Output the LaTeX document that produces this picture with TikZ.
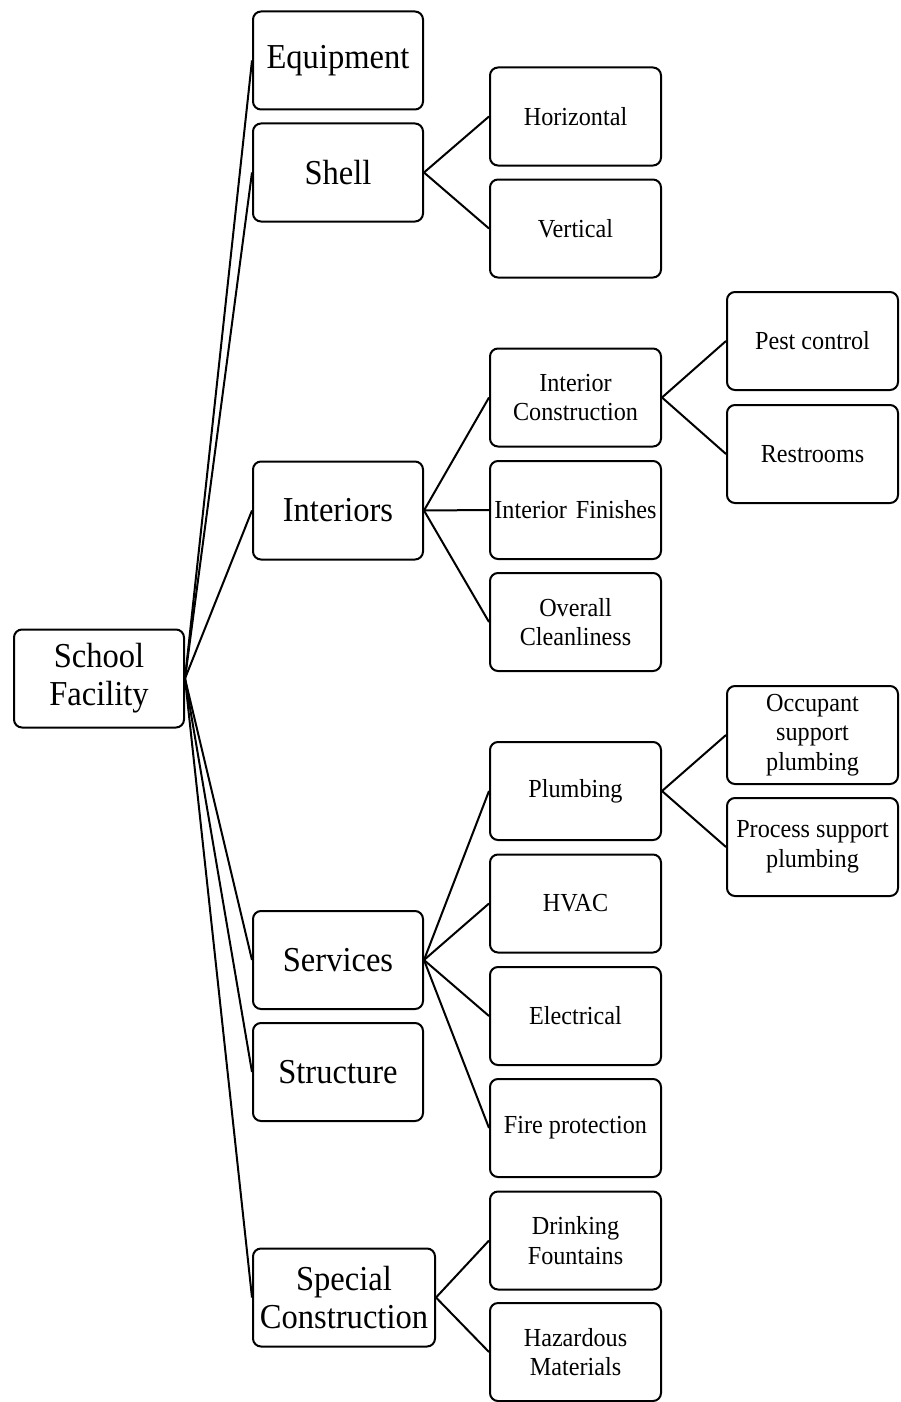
\documentclass[tikz,border=0pt]{standalone}
\usepackage{fontspec}
\setmainfont{Liberation Serif}[FakeStretch=0.93]
\begin{document}
\begin{tikzpicture}[x=1pt,y=-1pt,
  box/.style={draw=black,line width=2pt,rounded corners=8pt,rectangle,inner sep=0pt,align=center,minimum height=98pt},
  big/.style={box,minimum width=170pt,font=\fontsize{35}{38}\selectfont},
  small/.style={box,minimum width=171pt,font=\fontsize{26}{29.5}\selectfont},
  link/.style={line width=2pt}]
\useasboundingbox (0,0) rectangle (900,1402);
% root
\node[big] (root) at (99,678.5) {School\\Facility};
% level 1
\node[big] (eq) at (338,60.5) {Equipment};
\node[big] (sh) at (338,172.5) {Shell};
\node[big] (in) at (338,510.5) {Interiors};
\node[big] (se) at (338,960) {Services};
\node[big] (st) at (338,1072) {Structure};
\node[big,minimum width=182pt] (sc) at (344,1297.5) {Special\\Construction};
% level 2
\node[small] (ho) at (575.5,116.5) {Horizontal};
\node[small] (ve) at (575.5,228.5) {Vertical};
\node[small] (ic) at (575.5,397.5) {Interior\\Construction};
\node[small] (if) at (575.5,510) {Interior\hspace{3pt} Finishes};
\node[small] (oc) at (575.5,622) {Overall\\Cleanliness};
\node[small] (pl) at (575.5,791) {Plumbing};
\node[small] (hv) at (575.5,903.5) {HVAC};
\node[small] (el) at (575.5,1016) {Electrical};
\node[small] (fp) at (575.5,1128) {Fire protection};
\node[small] (df) at (575.5,1240.5) {Drinking\\Fountains};
\node[small] (hm) at (575.5,1352) {Hazardous\\Materials};
% level 3
\node[small] (pc) at (812.5,341) {Pest control};
\node[small] (rr) at (812.5,454) {Restrooms};
\node[small] (op) at (812.5,735) {Occupant\\support\\plumbing};
\node[small] (pp) at (812.5,847) {Process support\\plumbing};
% connectors
\foreach \c in {eq,sh,in,se,st,sc} \draw[link] (root.east) -- (\c.west);
\foreach \c in {ho,ve} \draw[link] (sh.east) -- (\c.west);
\foreach \c in {ic,if,oc} \draw[link] (in.east) -- (\c.west);
\foreach \c in {pl,hv,el,fp} \draw[link] (se.east) -- (\c.west);
\foreach \c in {df,hm} \draw[link] (sc.east) -- (\c.west);
\foreach \c in {pc,rr} \draw[link] (ic.east) -- (\c.west);
\foreach \c in {op,pp} \draw[link] (pl.east) -- (\c.west);
\end{tikzpicture}
\end{document}
